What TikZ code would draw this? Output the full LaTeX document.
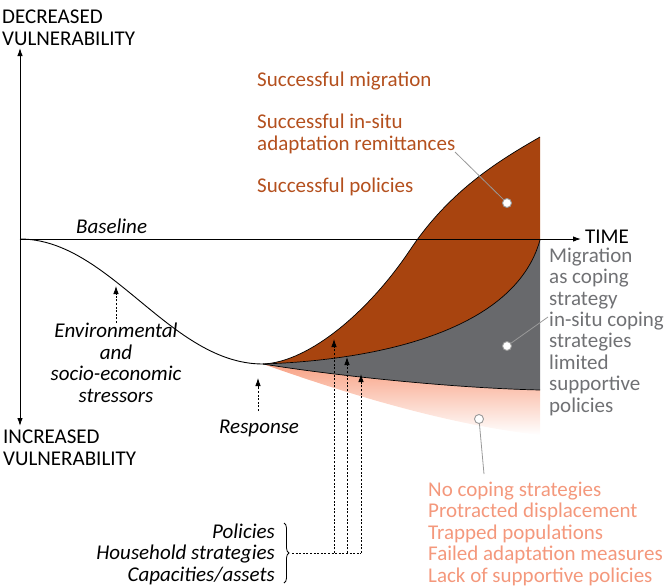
\documentclass[tikz,border=0pt]{standalone}
\usepackage{fontspec}
\setmainfont{Carlito}
\usetikzlibrary{arrows.meta, decorations.pathreplacing, positioning}

\definecolor{rust}{HTML}{A8440F}
\definecolor{rusttext}{HTML}{B4501E}
\definecolor{slate}{HTML}{68696C}
\definecolor{slatetext}{HTML}{707174}
\definecolor{salmon}{HTML}{F8A285}
\definecolor{salmontext}{HTML}{F4987C}

\tikzset{
    lbl/.style={inner sep=0pt, align=left},
    hint/.style={densely dashed, dash pattern=on 2pt off 1.6pt, line width=0.8pt},
    pin/.style={draw=gray!80, fill=white, line width=0.9pt, circle, inner sep=0pt, minimum size=9pt},
    pinline/.style={gray!80, line width=0.8pt}
}

\begin{document}
\begin{tikzpicture}[x=1pt, y=-1pt, >={Latex[length=8pt,width=5.5pt]},
    font=\fontsize{21}{21.4}\selectfont]

    \useasboundingbox (0,0) rectangle (669,587);

    % =================================================================
    % VUNG TO MAU SAU DIEM PHAN UNG
    % =================================================================
    \coordinate (resp) at (263,364);

    % Dai hong nhat: tu duong xam xuong bien duoi
    \shade[top color=salmon, middle color=salmon!85, bottom color=white]
        (resp) .. controls (330,375) and (450,388) .. (540,390)
        -- (540,435) .. controls (450,425) and (350,395) .. (resp) -- cycle;

    % Dai xam: giua duong giua va duong xam
    \fill[slate]
        (resp) .. controls (380,360) and (515,330) .. (540,240)
        -- (540,390) .. controls (450,388) and (330,375) .. (resp) -- cycle;

    % Dai nau: giua duong tren va duong giua
    \fill[rust]
        (resp) .. controls (310,362) and (370,310) .. (410,250)
        .. controls (450,190) and (500,160) .. (540,137)
        -- (540,240) .. controls (515,330) and (380,360) .. (resp) -- cycle;

    % Cac duong bien
    \draw[line width=0.9pt] (20,239) .. controls (110,239) and (170,364) .. (resp);
    \draw[line width=0.7pt] (resp) .. controls (310,362) and (370,310) .. (410,250)
        .. controls (450,190) and (500,160) .. (540,137);
    \draw[line width=0.7pt] (resp) .. controls (380,360) and (515,330) .. (540,240);
    \draw[line width=0.7pt] (resp) .. controls (330,375) and (450,388) .. (540,390);

    % =================================================================
    % HE TRUC
    % =================================================================
    \coordinate (origin) at (20,239);
    \coordinate (ytop) at (20,48);
    \coordinate (ybot) at (20,426);
    \coordinate (xend) at (581,239);
    \draw[<->, line width=1pt] (ytop) -- (ybot);
    \draw[->, line width=1pt] (origin) -- (xend);

    \node[lbl, anchor=base west] (dec) at (2,45) {DECREASED\\VULNERABILITY};
    \node[lbl, anchor=base west] (inc) at (3,465) {INCREASED\\VULNERABILITY};
    \node[lbl, anchor=base west] (time) at (585,243) {TIME};
    \node[lbl, anchor=base west, font=\fontsize{21}{21.4}\selectfont\itshape] (base) at (76,233) {Baseline};

    % =================================================================
    % NHAN BEN TRAI VA MUI TEN NET DUT
    % =================================================================
    \node[lbl, align=center, anchor=base, font=\fontsize{21}{21.4}\selectfont\itshape]
        (stress) at (116,402) {Environmental\\and\\socio-economic\\stressors};
    \coordinate (stresstip) at (116,286);
    \draw[hint, ->] (116,323) -- (stresstip);

    \node[lbl, anchor=base west, font=\fontsize{21}{21.4}\selectfont\itshape] (response) at (219,433) {Response};
    \coordinate (resptip) at (258,378);
    \draw[hint, ->] (258,411) -- (resptip);

    % Ngoac va ba yeu to
    \node[lbl, align=right, anchor=base east, font=\fontsize{21}{21.4}\selectfont\itshape]
        (factors) at (275,581) {Policies\\Household strategies\\Capacities/assets};
    \draw[line width=0.8pt, decorate, decoration={brace, amplitude=5pt}]
        (284,523) -- (284,583);
    \coordinate (brace) at (292,553);
    \coordinate (tipA) at (334,339);
    \coordinate (tipB) at (347,357);
    \coordinate (tipC) at (361,374);
    \draw[hint] (brace) -- (tipC |- brace);
    \draw[hint, ->] (tipA |- brace) -- (tipA);
    \draw[hint, ->] (tipB |- brace) -- (tipB);
    \draw[hint, ->] (tipC |- brace) -- (tipC);

    % =================================================================
    % CHU THICH BEN PHAI
    % =================================================================
    \node[lbl, anchor=base west, text=rusttext] (succ) at (257,192)
        {Successful migration\\[20.6pt]Successful in-situ\\adaptation remittances\\[20.6pt]Successful policies};
    \node[lbl, anchor=base west, text=slatetext] (cope) at (549,412)
        {Migration\\as coping\\strategy\\in-situ coping\\strategies\\limited\\supportive\\policies};
    \node[lbl, anchor=base west, text=salmontext] (fail) at (428,582)
        {No coping strategies\\Protracted displacement\\Trapped populations\\Failed adaptation measures\\Lack of supportive policies};

    % Cham tron va duong dan
    \node[pin] (pinA) at (507,203) {};
    \node[pin] (pinB) at (507,346) {};
    \node[pin] (pinC) at (479,419) {};
    \coordinate (endA) at (455,152);
    \coordinate (endB) at (548,317);
    \coordinate (endC) at (484,474);
    \draw[pinline] (pinA) -- (endA);
    \draw[pinline] (pinB) -- (endB);
    \draw[pinline] (pinC) -- (endC);

\end{tikzpicture}
\end{document}
